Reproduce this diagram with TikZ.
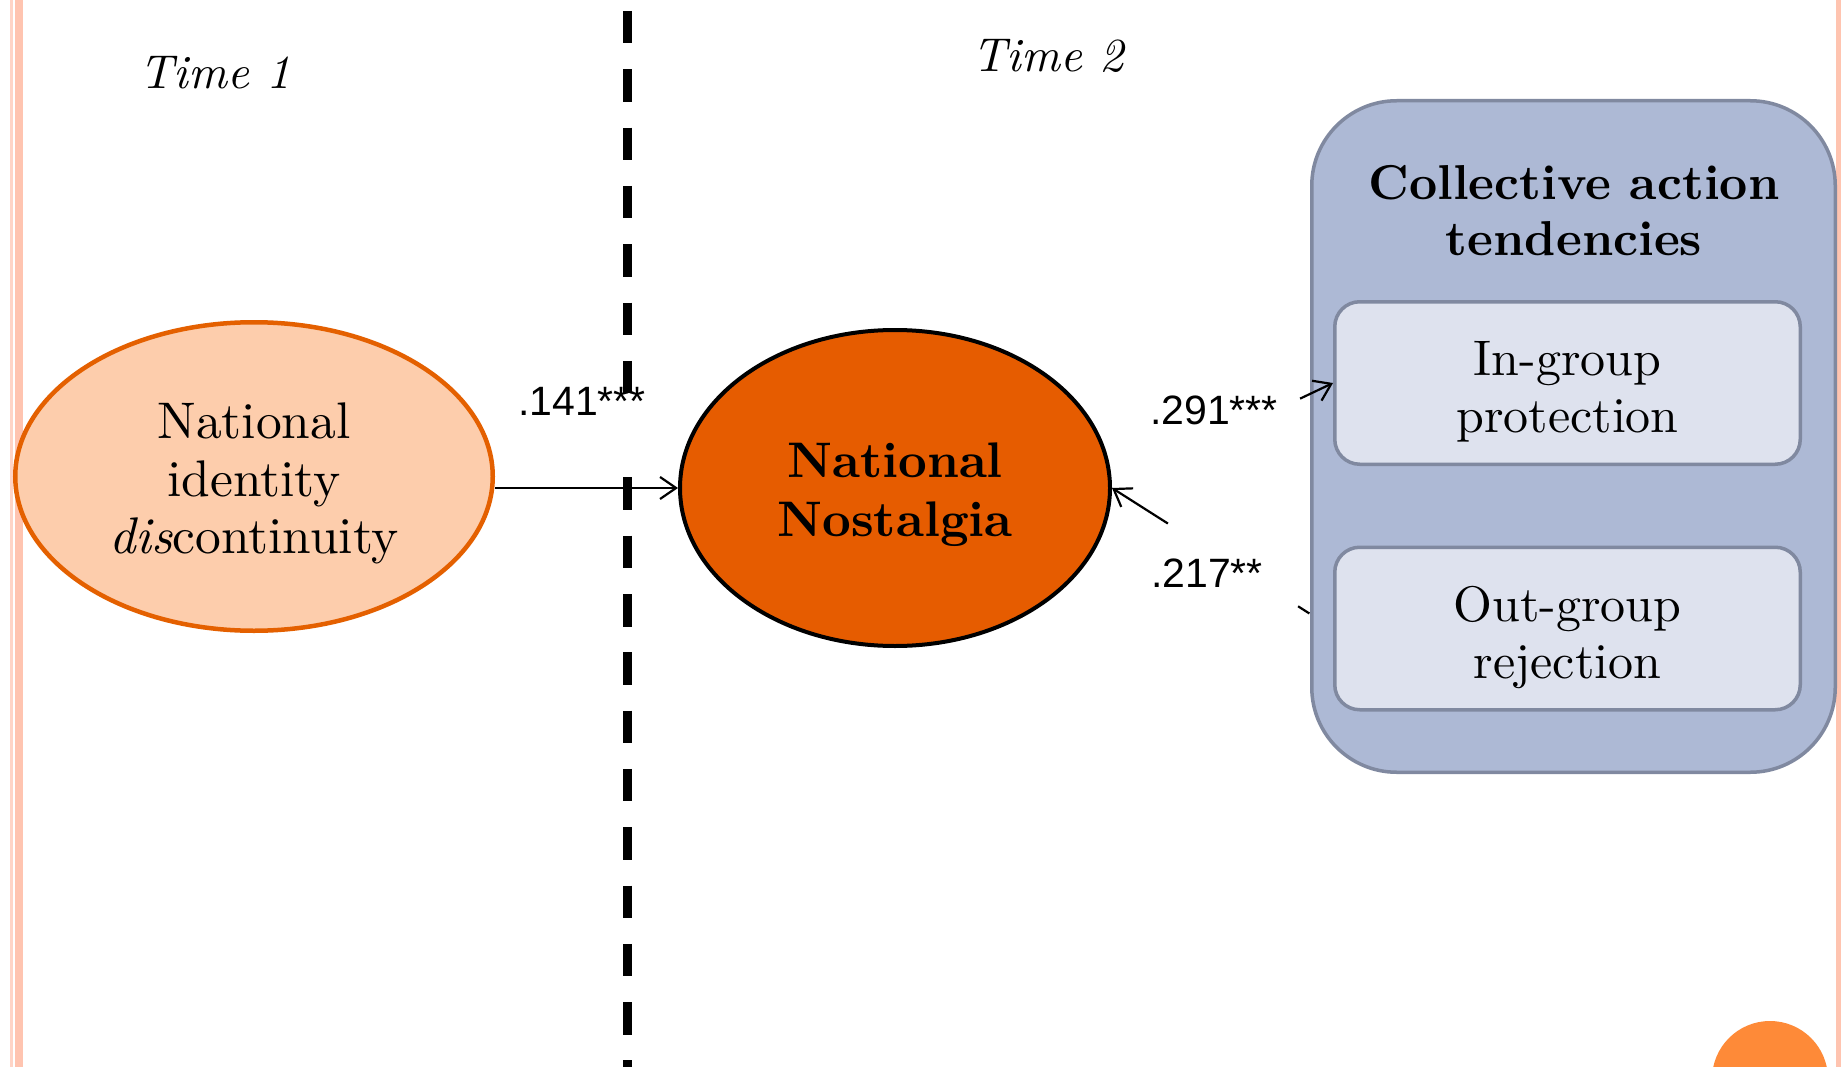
\documentclass[tikz,border=0pt]{standalone}
\usepackage{fontspec}
\setmainfont{lmroman10}[Extension=.otf, UprightFont=*-regular, BoldFont=*-bold,
  ItalicFont=*-italic, BoldItalicFont=*-bolditalic]
\newfontfamily\labfont{Liberation Sans}
\usetikzlibrary{shapes.geometric,arrows.meta,calc}
\definecolor{pinkline}{RGB}{255,196,176}
\definecolor{pinklight}{RGB}{255,212,198}
\definecolor{peach}{RGB}{253,205,172}
\definecolor{orangeborder}{RGB}{228,96,0}
\definecolor{nostfill}{RGB}{230,92,0}
\definecolor{outerfill}{RGB}{173,185,213}
\definecolor{boxborder}{RGB}{128,137,160}
\definecolor{innerfill}{RGB}{222,226,238}
\definecolor{dotorange}{RGB}{254,138,56}
\begin{document}
\begin{tikzpicture}[x=1pt,y=-1pt,
  sepline/.style={line width=8.5pt, dash pattern=on 32.5pt off 25.8pt, black},
  conn/.style={line width=2.2pt, black},
  arr/.style={conn, -{Straight Barb[length=16pt,width=22pt]}},
  timetxt/.style={font=\itshape\fontsize{47.5}{56}\selectfont, inner sep=0pt},
  coef/.style={font=\labfont\fontsize{41}{49}\selectfont, inner sep=0pt},
  latent/.style={ellipse, inner sep=0pt},
  inbox/.style={rectangle, rounded corners=25pt, draw=boxborder, line width=3.5pt,
    fill=innerfill, minimum width=465.5pt, minimum height=162.5pt, inner sep=0pt},
  boxtext/.style={align=center, inner sep=0pt, yshift=-9pt,
    font=\fontsize{50}{57}\selectfont},
]
\clip (0,0) rectangle (1841,1067);
\fill[white] (0,0) rectangle (1841,1067);
% slide decorations
\fill[pinklight] (10,0) rectangle (13,1067);
\fill[pinkline] (15,0) rectangle (23,1067);
\fill[pinkline] (1836,0) rectangle (1841,1067);
\fill[dotorange] (1770,1079) circle[radius=58];

% time labels
\node[timetxt, anchor=base] (time1) at (215,89) {Time 1};
\node[timetxt, anchor=base] (time2) at (1048,72) {Time 2};

% latent variables
\node[latent, draw=orangeborder, line width=4.5pt, fill=peach,
  minimum width=477.5pt, minimum height=308.5pt,
  label={[align=center, inner sep=0pt, yshift=-7pt,
    font=\fontsize{51.5}{57.5}\selectfont]center:National\\identity\\\textit{dis}continuity}]
  (nid) at (254,476.5) {};
\node[latent, draw=black, line width=4pt, fill=nostfill,
  minimum width=430pt, minimum height=316pt,
  label={[align=center, inner sep=0pt, yshift=-7pt,
    font=\bfseries\fontsize{50}{59}\selectfont]center:National\\Nostalgia}]
  (nost) at (895,488) {};

% collective action container
\node[rectangle, rounded corners=85pt, draw=boxborder, line width=3.5pt, fill=outerfill,
  minimum width=523.5pt, minimum height=671.5pt, inner sep=0pt] (cat) at (1573.5,436.5) {};
\node[align=center, inner sep=0pt, font=\bfseries\fontsize{49}{56}\selectfont]
  (cattitle) at (1574,211) {Collective action\\tendencies};
\node[inbox, label={[boxtext]center:In-group\\protection}] (ing) at (1567.5,383) {};
\node[inbox, label={[boxtext]center:Out-group\\rejection}] (outg) at (1567.5,628.5) {};

% connectors
\draw[arr] (nid.east |- nost.west) -- (nost.west);
\draw[arr] ($(nost.east)!0.851!(ing.west)$) -- (ing.west);
\draw[arr] ($(nost.east)!0.253!(outg.west)$) -- (nost.east);
\draw[conn] ($(nost.east)!0.842!(outg.west)$) -- ($(nost.east)!0.893!(outg.west)$);

% time separator
\coordinate (septop) at (627.5,11);
\coordinate (sepmid1) at (627.5,393.5);
\coordinate (sepmid2) at (627.5,477.4);
\coordinate (sepbot) at (627.5,1067);
\draw[sepline] (septop) -- (sepmid1);
\draw[sepline] (sepmid2) -- (sepbot);

% path coefficients
\node[coef, anchor=base] (c1) at (582,415) {.141***};
\node[coef, anchor=base] (c2) at (1214,424) {.291***};
\node[coef, anchor=base] (c3) at (1207,587) {.217**};
\end{tikzpicture}
\end{document}
